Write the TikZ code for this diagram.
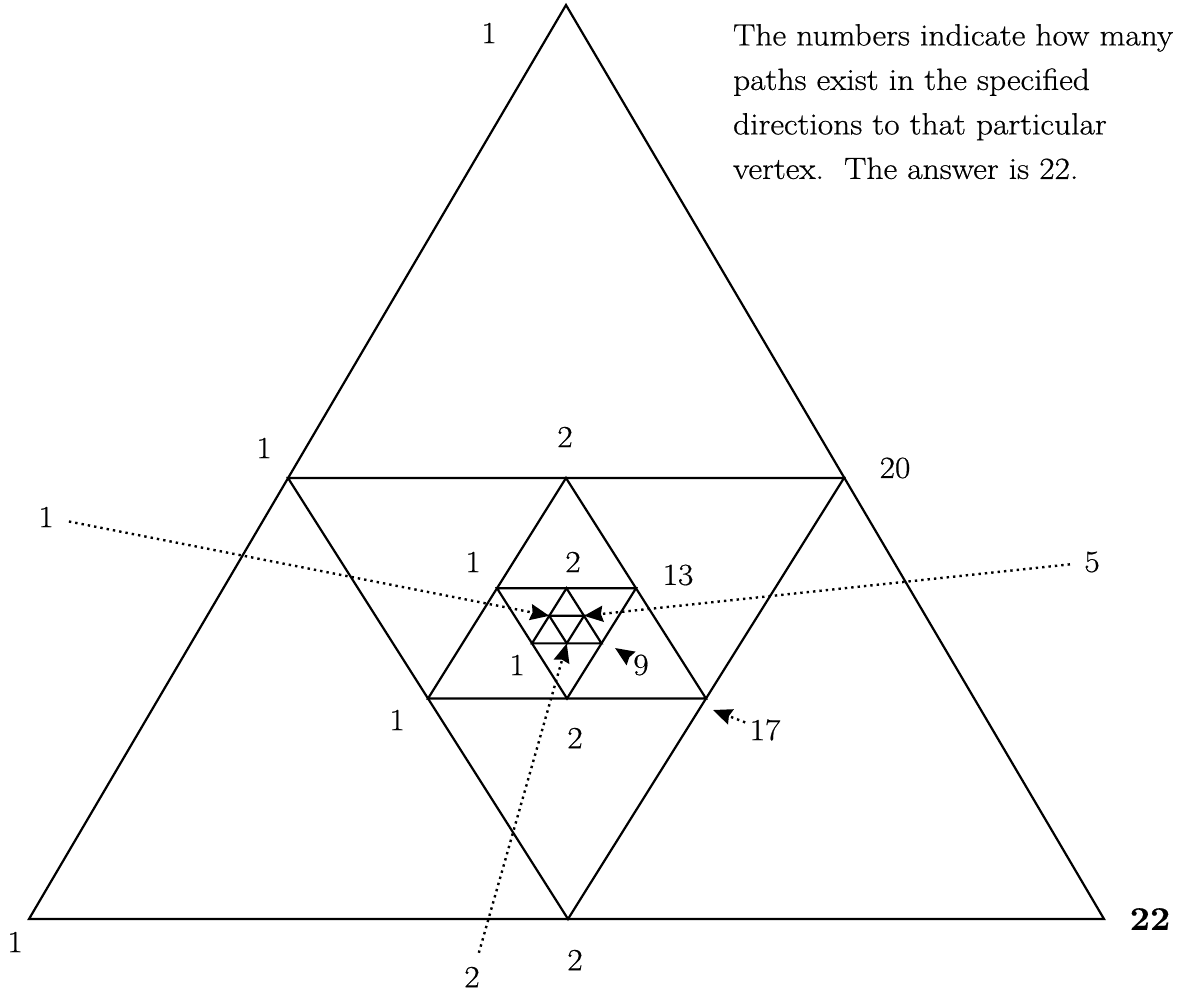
\documentclass[tikz,border=0pt]{standalone}
\usepackage{fontspec}
\setmainfont{Latin Modern Roman}[FakeStretch=1.09,FakeBold=0.6]
\usepackage{tikz}
\usetikzlibrary{arrows.meta,calc,positioning}

\begin{document}
\begin{tikzpicture}[x=1pt,y=-1pt,line width=2.2pt,
  every node/.style={font=\fontsize{30.7}{44.5}\selectfont},
  ptr/.style={line width=2.4pt,dash pattern=on 2.4pt off 4pt,
    -{Stealth[length=19pt,width=16pt,inset=2pt]}}]
  \useasboundingbox (0,0) rectangle (1183,991);
  % outer triangle
  \coordinate (top) at (566,5);
  \coordinate (bl) at (29,919);
  \coordinate (br) at (1104,919);
  % first inverted triangle, then midpoints inwards
  \coordinate (i1l) at (288,478);
  \coordinate (i1r) at (844,478);
  \coordinate (i1b) at (568,919);
  \coordinate (u1t) at ($(i1l)!0.5!(i1r)$);
  \coordinate (u1l) at ($(i1l)!0.5!(i1b)$);
  \coordinate (u1r) at ($(i1r)!0.5!(i1b)$);
  \coordinate (i2l) at ($(u1t)!0.5!(u1l)$);
  \coordinate (i2r) at ($(u1t)!0.5!(u1r)$);
  \coordinate (i2b) at ($(u1l)!0.5!(u1r)$);
  \coordinate (u2t) at ($(i2l)!0.5!(i2r)$);
  \coordinate (u2l) at ($(i2l)!0.5!(i2b)$);
  \coordinate (u2r) at ($(i2r)!0.5!(i2b)$);
  \coordinate (i3l) at ($(u2t)!0.5!(u2l)$);
  \coordinate (i3r) at ($(u2t)!0.5!(u2r)$);
  \coordinate (i3b) at ($(u2l)!0.5!(u2r)$);
  \foreach \a/\b/\c in {top/bl/br,i1l/i1r/i1b,u1t/u1l/u1r,i2l/i2r/i2b,u2t/u2l/u2r,i3l/i3r/i3b}
    \draw (\a) -- (\b) -- (\c) -- cycle;

  % path counts
  \node (cTop) at (489,33) {1};
  \node (cI1l) at (264,448) {1};
  \node (cU1t) at (565,437) {2};
  \node (cI1r) at (895,468) {20};
  \node (cLeft) at (46,517) {1};
  \node (cRight) at (1092,562) {5};
  \node (cI2l) at (473,562) {1};
  \node (cU2t) at (573,562) {2};
  \node (cI2r) at (678,575) {13};
  \node (cU2l) at (517,665) {1};
  \node (cNine) at (641,665) {9};
  \node (cU1l) at (397,720) {1};
  \node (cI2b) at (575,738) {2};
  \node (cSeven) at (765,730) {17};
  \node (cBl) at (15,942) {1};
  \node (cI1b) at (575,960) {2};
  \node (cLow) at (472,977) {2};
  \node[font=\fontsize{33}{40}\selectfont\bfseries] (cBr) at (1150,919) {22};

  \coordinate (p17) at (713,710);
  \coordinate (p9) at (615,648);
  \draw[ptr,shorten <=11pt] (cLeft) -- (i3l);
  \draw[ptr,shorten <=10pt] (cRight) -- (i3r);
  \draw[ptr,shorten <=10pt] (cLow) -- (i3b);
  \draw[ptr] (cSeven) -- (p17);
  \draw[ptr] (cNine) -- (p9);

  \node[anchor=north west,inner sep=0pt,align=left] (note) at (732,23)
    {The numbers indicate how many\\paths exist in the specified\\directions to that particular\\vertex.\ \ The answer is 22.};
\end{tikzpicture}
\end{document}
